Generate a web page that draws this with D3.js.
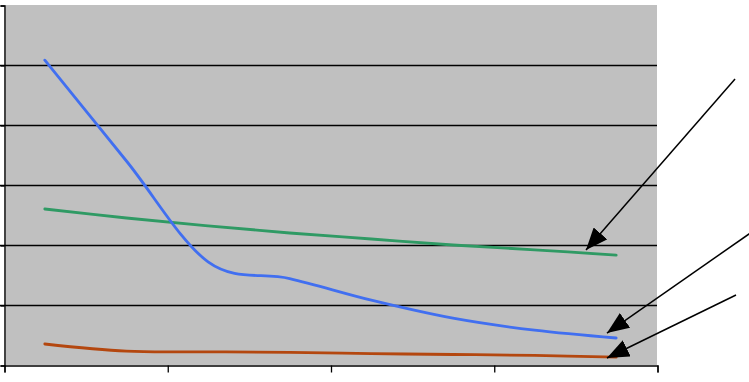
<!DOCTYPE html>
<html>
<head>
<meta charset="utf-8">
<script src="https://cdn.jsdelivr.net/npm/d3@7"></script>
<style>
  body { margin: 0; background: #fff; }
  svg { display: block; }
</style>
</head>
<body>
<div id="chart"></div>
<script>
// 8 categories, tick marks every 2 categories
var categories = [0, 1, 2, 3, 4, 5, 6, 7];
var xTicks = [0, 2, 4, 6, 8];
var yTicks = [1, 2, 3, 4, 5];

var blueValues  = [5.08, 3.40, 1.72, 1.44, 1.08, 0.78, 0.58, 0.45];
var greenValues = [2.60, 2.45, 2.32, 2.20, 2.10, 2.00, 1.92, 1.83];
var brownValues = [0.35, 0.23, 0.22, 0.21, 0.19, 0.175, 0.16, 0.13];

// annotation arrows, in data units (tail -> tip)
var arrowTails = [[8.956, 4.767], [9.25, 2.30], [8.968, 1.167]];
var arrowTips  = [[7.13, 1.917], [7.387, 0.533], [7.387, 0.117]];

var width = 749, height = 382;
var margin = {top: 5, right: 92, bottom: 17, left: 4};

var svg = d3.select('#chart').append('svg')
    .attr('width', width)
    .attr('height', height);

var x = d3.scaleLinear().domain([0, 8]).range([margin.left, width - margin.right]);
var y = d3.scaleLinear().domain([0, 6]).range([height - margin.bottom, margin.top]);

// plot area
svg.append('rect')
    .attr('x', x(0))
    .attr('y', y(6))
    .attr('width', x(8) - x(0))
    .attr('height', y(0) - y(6))
    .attr('fill', '#c0c0c0');

// gridlines
svg.append('g')
    .selectAll('line')
    .data(yTicks)
    .join('line')
    .attr('x1', x(0) - 4)
    .attr('x2', x(8))
    .attr('y1', d => y(d) + 0.5)
    .attr('y2', d => y(d) + 0.5)
    .attr('stroke', '#000')
    .attr('stroke-width', 1.3);

// axes
svg.append('g')
    .attr('transform', 'translate(0.5,' + (y(0) + 0.5) + ')')
    .call(d3.axisBottom(x).tickValues(xTicks).tickFormat('').tickSizeOuter(0).tickSize(7))
    .call(g => g.selectAll('path,line').attr('stroke', '#000').attr('stroke-width', 1.3));

svg.append('g')
    .attr('transform', 'translate(' + (x(0) + 0.5) + ',0.5)')
    .call(d3.axisLeft(y).tickValues([0, 1, 2, 3, 4, 5, 6]).tickFormat('').tickSizeOuter(0).tickSize(4))
    .call(g => g.selectAll('path,line').attr('stroke', '#000').attr('stroke-width', 1.3));

// series
var series = [
    {values: greenValues, color: '#2f9a64'},
    {values: blueValues, color: '#416ff0'},
    {values: brownValues, color: '#b4470f'}
];

var line = d3.line()
    .x((d, i) => x(categories[i] + 0.5))
    .y(d => y(d))
    .curve(d3.curveCatmullRom.alpha(0));

svg.append('g')
    .selectAll('path')
    .data(series)
    .join('path')
    .attr('d', d => line(d.values))
    .attr('fill', 'none')
    .attr('stroke', d => d.color)
    .attr('stroke-width', 2.8)
    .attr('stroke-linecap', 'round');

// arrowhead
svg.append('defs').append('marker')
    .attr('id', 'arrowhead')
    .attr('viewBox', '0 0 22 18')
    .attr('refX', 22)
    .attr('refY', 9)
    .attr('markerWidth', 22)
    .attr('markerHeight', 18)
    .attr('markerUnits', 'userSpaceOnUse')
    .attr('orient', 'auto')
    .append('path')
    .attr('d', 'M0,0 L22,9 L0,18 Z')
    .attr('fill', '#000');

svg.append('g')
    .selectAll('line')
    .data(arrowTails)
    .join('line')
    .attr('x1', d => x(d[0]))
    .attr('y1', d => y(d[1]))
    .attr('x2', (d, i) => x(arrowTips[i][0]))
    .attr('y2', (d, i) => y(arrowTips[i][1]))
    .attr('stroke', '#000')
    .attr('stroke-width', 1.5)
    .attr('marker-end', 'url(#arrowhead)');
</script>
</body>
</html>
